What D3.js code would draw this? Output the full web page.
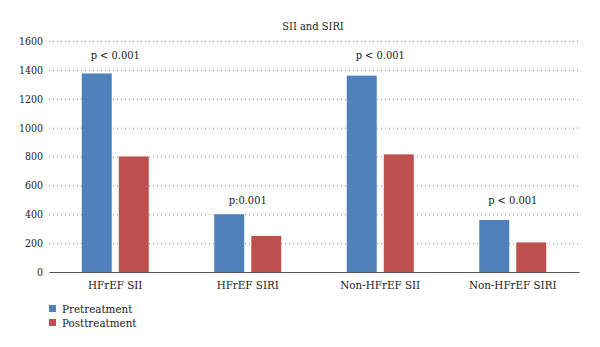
<html lang="en">
<head>
<title>SII and SIRI</title>
<script src="https://d3js.org/d3.v7.min.js"></script>
<style>
body { margin: 0; background: #fff; }
svg text { fill: #222; font-stretch: condensed; }
</style>
</head>
<body>
<script>
// data
var categories = ["HFrEF SII", "HFrEF SIRI", "Non-HFrEF SII", "Non-HFrEF SIRI"];
var seriesNames = ["Pretreatment", "Posttreatment"];
var pretreatment = [1375, 400, 1360, 360];
var posttreatment = [800, 250, 815, 205];
var pLabels = ["p < 0.001", "p:0.001", "p < 0.001", "p < 0.001"];
var pLabelAt = [1500, 500, 1500, 500];
var yTicks = [0, 200, 400, 600, 800, 1000, 1200, 1400, 1600];
var colors = ["#4f81bd", "#c0504d"];

var width = 600, height = 347;
var margin = {left: 49, right: 21, top: 41, bottom: 75};
var serif = "'DejaVu Serif Condensed', 'DejaVu Serif', serif";

var svg = d3.select("body").append("svg")
    .attr("width", width)
    .attr("height", height);

var x = d3.scaleBand()
    .domain(categories)
    .range([margin.left, width - margin.right]);

var inner = d3.scaleBand()
    .domain(seriesNames)
    .range([0, 67])
    .paddingInner(0.19);

var y = d3.scaleLinear()
    .domain([0, 1600])
    .range([height - margin.bottom, margin.top]);

// title
svg.append("text")
    .attr("x", 313)
    .attr("y", 30)
    .attr("text-anchor", "middle")
    .attr("font-family", serif)
    .style("font-size", "11px")
    .text("SII and SIRI");

// gridlines
svg.append("g")
    .selectAll("line")
    .data(yTicks.filter(function(d) { return d > 0; }))
    .enter().append("line")
    .attr("x1", margin.left)
    .attr("x2", width - margin.right)
    .attr("y1", function(d) { return y(d) + 0.5; })
    .attr("y2", function(d) { return y(d) + 0.5; })
    .attr("stroke", "#888")
    .attr("stroke-dasharray", "1,3");

// y axis labels
var yAxis = svg.append("g")
    .attr("transform", "translate(" + margin.left + ",0)")
    .call(d3.axisLeft(y).tickValues(yTicks).tickFormat(d3.format("d")).tickSize(0).tickPadding(6))
    .attr("font-family", serif)
    .attr("font-size", 10.5);
yAxis.select(".domain").remove();
yAxis.selectAll("text").attr("fill", "#222");

// bars
var data = categories.map(function(c, i) {
  return {cat: c, vals: [pretreatment[i], posttreatment[i]]};
});

var groups = svg.append("g")
    .selectAll("g")
    .data(data)
    .enter().append("g")
    .attr("transform", function(d) {
      return "translate(" + (x(d.cat) + x.bandwidth() / 2 - 33.5) + ",0)";
    });

groups.selectAll("rect")
    .data(function(d) { return d.vals; })
    .enter().append("rect")
    .attr("x", function(d, i) { return inner(seriesNames[i]); })
    .attr("width", inner.bandwidth())
    .attr("y", function(d) { return y(d); })
    .attr("height", function(d) { return y(0) - y(d); })
    .attr("fill", function(d, i) { return colors[i]; });

// x axis
var xAxis = svg.append("g")
    .attr("transform", "translate(0," + y(0) + ")")
    .call(d3.axisBottom(x).tickSize(0).tickPadding(9))
    .attr("font-family", serif)
    .attr("font-size", 11.5);
xAxis.select(".domain")
    .attr("stroke", "#555")
    .attr("stroke-width", 1.2);
xAxis.selectAll("text").attr("fill", "#222");

// p labels
svg.append("g")
    .attr("font-family", serif)
    .selectAll("text")
    .data(categories)
    .enter().append("text")
    .attr("x", function(d) { return x(d) + x.bandwidth() / 2; })
    .attr("y", function(d, i) { return y(pLabelAt[i]); })
    .attr("dy", "0.35em")
    .attr("text-anchor", "middle")
    .style("font-size", "11px")
    .text(function(d, i) { return pLabels[i]; });

// legend
var legend = svg.append("g")
    .attr("font-family", serif)
    .attr("transform", "translate(49,305)");
var item = legend.selectAll("g")
    .data(seriesNames)
    .enter().append("g")
    .attr("transform", function(d, i) { return "translate(0," + (i * 14) + ")"; });
item.append("rect")
    .attr("width", 7)
    .attr("height", 7)
    .attr("fill", function(d, i) { return colors[i]; });
item.append("text")
    .attr("x", 13)
    .attr("y", 4)
    .attr("dy", "0.35em")
    .style("font-size", "11.5px")
    .text(function(d) { return d; });
</script>
</body>
</html>
